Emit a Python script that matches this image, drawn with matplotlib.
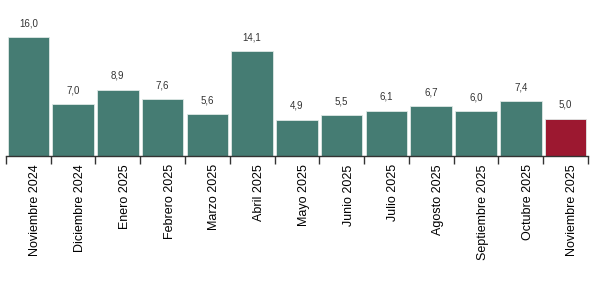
import matplotlib
matplotlib.use("Agg")
import matplotlib.pyplot as plt
import matplotlib.transforms as mtransforms
import numpy as np

categories = ["Noviembre 2024", "Diciembre 2024", "Enero 2025", "Febrero 2025",
              "Marzo 2025", "Abril 2025", "Mayo 2025", "Junio 2025", "Julio 2025",
              "Agosto 2025", "Septiembre 2025", "Octubre 2025", "Noviembre 2025"]
values = [16.0, 7.0, 8.9, 7.6, 5.6, 14.1, 4.9, 5.5, 6.1, 6.7, 6.0, 7.4, 5.0]

teal = "#457C73"
red = "#9C1830"
colors = [teal] * (len(values) - 1) + [red]

plt.rcParams['font.family'] = ['Liberation Sans', 'DejaVu Sans']

fig = plt.figure(figsize=(5.95, 2.81), dpi=100)
ax = fig.add_axes([0.01, 0.445, 0.978, 0.423])

x = np.arange(len(values))
bars = ax.bar(x, values, width=0.93, color=colors, edgecolor="#dfe9e6", linewidth=0.6)

for xi, v in zip(x, values):
    ax.annotate(f"{v:.1f}".replace(".", ","), (xi, v), xytext=(0, 10),
                textcoords="offset points", ha="center", va="center",
                fontsize=7, color="#333333")

ax.set_xlim(-0.5, len(values) - 0.5)
ax.set_ylim(0, 16)

ax.set_xticks(np.arange(-0.5, len(values), 1.0))
ax.set_xticklabels([])
ax.set_xticks(x, minor=True)
ax.set_xticklabels(categories, minor=True, rotation=90, fontsize=9, va="top", ha="center")
ax.tick_params(axis="x", which="major", length=6, width=1.0, color="#333333")
ax.tick_params(axis="x", which="minor", length=0, pad=6)

offset = mtransforms.ScaledTranslation(7 / 100, 0, fig.dpi_scale_trans)
for lab in ax.get_xticklabels(minor=True):
    lab.set_transform(lab.get_transform() + offset)

ax.set_yticks([])
for s in ["left", "right", "top"]:
    ax.spines[s].set_visible(False)
ax.spines["bottom"].set_color("#333333")
ax.spines["bottom"].set_linewidth(1.0)

fig.savefig("out.png", dpi=100)
